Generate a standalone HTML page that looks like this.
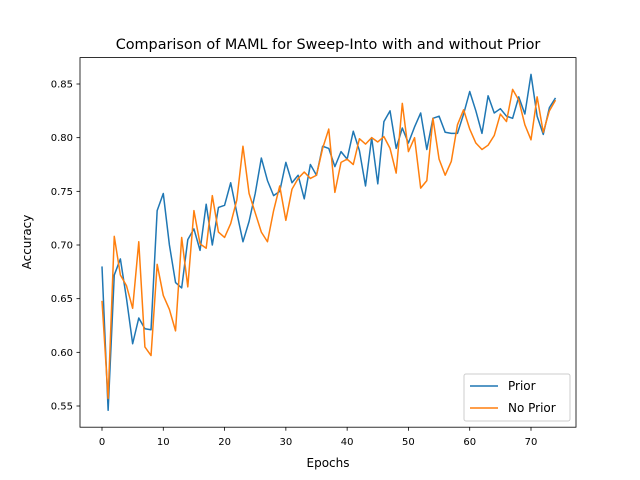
<!DOCTYPE html>
<html><head><meta charset="utf-8"><style>
body{margin:0;background:#fff}
svg{display:block;font-family:"DejaVu Sans","Liberation Sans",sans-serif}
</style></head><body>
<svg id="chart" width="640" height="480">
<rect width="640" height="480" fill="#fff"/>
<text x="328" y="49" text-anchor="middle" font-size="14.4">Comparison of MAML for Sweep-Into with and without Prior</text>
<g id="plot"></g>
<rect x="80" y="57.6" width="496" height="369.6" fill="none" stroke="#000" stroke-width="0.8"/>
<text x="328" y="467" text-anchor="middle" font-size="12">Epochs</text>
<text x="31" y="242" text-anchor="middle" font-size="12" transform="rotate(-90 31 242)">Accuracy</text>
<g>
<rect x="464" y="374" width="106" height="47" rx="2" fill="#fff" fill-opacity="0.8" stroke="#ccc"/>
<g><line x1="470" y1="386" x2="498" y2="386" stroke="#1f77b4" stroke-width="1.5"/><text x="508" y="390" font-size="12">Prior</text></g>
<g><line x1="470" y1="408" x2="498" y2="408" stroke="#ff7f0e" stroke-width="1.5"/><text x="508" y="412" font-size="12">No Prior</text></g>
</g>
</svg>
<script>
const prior=[0.680,0.546,0.672,0.687,0.650,0.608,0.632,0.622,0.621,0.732,0.748,0.700,0.665,0.660,0.705,0.715,0.695,0.738,0.700,0.735,0.737,0.758,0.730,0.703,0.722,0.748,0.781,0.760,0.746,0.750,0.777,0.758,0.765,0.743,0.775,0.765,0.792,0.790,0.773,0.787,0.780,0.806,0.788,0.755,0.800,0.757,0.815,0.825,0.790,0.809,0.795,0.810,0.823,0.789,0.818,0.820,0.805,0.804,0.804,0.822,0.843,0.825,0.804,0.839,0.823,0.827,0.820,0.818,0.838,0.822,0.859,0.820,0.803,0.828,0.837];
const noPrior=[0.648,0.557,0.708,0.672,0.662,0.641,0.703,0.605,0.597,0.682,0.653,0.640,0.620,0.707,0.661,0.732,0.701,0.697,0.746,0.712,0.707,0.720,0.742,0.792,0.748,0.730,0.712,0.703,0.732,0.755,0.723,0.752,0.762,0.768,0.762,0.765,0.790,0.808,0.749,0.777,0.780,0.775,0.799,0.794,0.800,0.796,0.801,0.790,0.767,0.832,0.787,0.800,0.753,0.760,0.818,0.780,0.765,0.778,0.812,0.826,0.808,0.795,0.789,0.793,0.802,0.822,0.815,0.845,0.835,0.812,0.798,0.838,0.805,0.825,0.835];
const xTicks=[0,10,20,30,40,50,60,70];
const yTicks=[0.55,0.60,0.65,0.70,0.75,0.80,0.85];
const ns="http://www.w3.org/2000/svg";
const g=document.getElementById('plot');
const X=v=>102+(v)*(531-102)/70;
const Y=v=>406-(v-0.55)*(406-84)/0.30;
function mk(t,a){const e=document.createElementNS(ns,t);for(const k in a)e.setAttribute(k,a[k]);g.appendChild(e);return e;}
xTicks.forEach(t=>{
 const l=mk('line',{x1:X(t),x2:X(t),y1:427.2,y2:430.7,stroke:'#000','stroke-width':0.8});
 
 
 const tx=mk('text',{x:X(t),y:445,'text-anchor':'middle','font-size':10});
 tx.textContent=t;
 
 
});
yTicks.forEach(t=>{
 const l=mk('line',{x1:76.5,x2:80,y1:Y(t),y2:Y(t),stroke:'#000','stroke-width':0.8});
 
 
 const tx=mk('text',{x:73,y:Y(t)+3.5,'text-anchor':'end','font-size':10});
 tx.textContent=t.toFixed(2);
 
 
});
function line(d,c,name){
 const p=mk('polyline',{points:d.map((v,i)=>X(i)+','+Y(v)).join(' '),fill:'none',stroke:c,'stroke-width':1.5,'stroke-linejoin':'round'});
 
 
}
line(prior,'#1f77b4','prior-line');
line(noPrior,'#ff7f0e','no-prior-line');
</script>
</body></html>
